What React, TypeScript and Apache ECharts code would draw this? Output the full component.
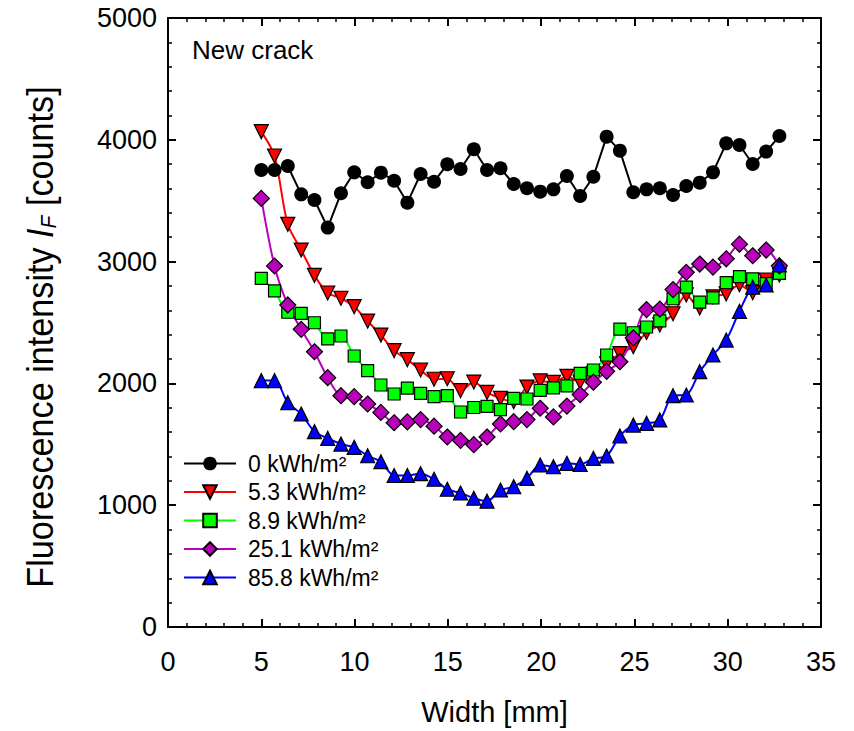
import React, { useEffect, useRef } from 'react';
import * as echarts from 'echarts';

const widthMm = [5.0, 5.71, 6.42, 7.14, 7.85, 8.56, 9.27, 9.98, 10.7, 11.41, 12.12, 12.83, 13.54, 14.26, 14.97, 15.68, 16.39, 17.1, 17.82, 18.53, 19.24, 19.95, 20.66, 21.38, 22.09, 22.8, 23.51, 24.22, 24.94, 25.65, 26.36, 27.07, 27.78, 28.5, 29.21, 29.92, 30.63, 31.34, 32.06, 32.77];

const seriesNames = ['0 kWh/m²', '5.3 kWh/m²', '8.9 kWh/m²', '25.1 kWh/m²', '85.8 kWh/m²'];

const dose0 = [3752, 3752, 3785, 3552, 3506, 3279, 3561, 3733, 3651, 3730, 3664, 3484, 3719, 3656, 3799, 3760, 3922, 3752, 3766, 3637, 3602, 3574, 3593, 3703, 3539, 3697, 4026, 3911, 3569, 3593, 3602, 3547, 3621, 3648, 3733, 3971, 3957, 3801, 3903, 4031];
const dose53 = [4067, 3867, 3306, 3095, 2887, 2742, 2699, 2630, 2512, 2397, 2269, 2195, 2110, 2034, 2038, 1940, 2011, 1926, 1877, 1850, 1970, 2020, 2008, 2058, 2010, 2080, 2160, 2245, 2302, 2418, 2480, 2572, 2726, 2620, 2710, 2735, 2810, 2745, 2849, 2890];
const dose89 = [2863, 2759, 2584, 2575, 2498, 2365, 2389, 2225, 2105, 1987, 1913, 1962, 1918, 1891, 1899, 1765, 1802, 1812, 1785, 1877, 1872, 1943, 1963, 1980, 2083, 2110, 2233, 2445, 2416, 2463, 2514, 2695, 2791, 2668, 2702, 2827, 2876, 2858, 2819, 2904];
const dose251 = [3519, 2964, 2644, 2444, 2260, 2047, 1899, 1891, 1831, 1762, 1677, 1684, 1703, 1649, 1560, 1532, 1497, 1560, 1667, 1686, 1703, 1796, 1725, 1814, 1908, 2010, 2099, 2178, 2374, 2606, 2610, 2770, 2912, 2980, 2955, 3023, 3143, 3048, 3095, 2965];
const dose858 = [2023, 2023, 1842, 1749, 1604, 1549, 1502, 1475, 1406, 1357, 1244, 1244, 1259, 1213, 1131, 1100, 1057, 1033, 1125, 1152, 1221, 1330, 1316, 1344, 1335, 1385, 1404, 1568, 1658, 1672, 1700, 1899, 1905, 2096, 2233, 2356, 2592, 2790, 2808, 2972];

const FONT = "'Liberation Sans', Arial, Helvetica, sans-serif";

const pairs = (ys: number[]) => ys.map((y, i) => [widthMm[i], y]);

export default function App() {
  const ref = useRef<HTMLDivElement>(null);
  useEffect(() => {
    if (!ref.current) return;
    const chart = echarts.init(ref.current, undefined, { renderer: 'svg' });
    const axisCommon = {
      axisLine: { show: true, onZero: false, lineStyle: { color: '#000', width: 2 } },
      axisTick: { show: true, inside: true, length: 8, lineStyle: { color: '#000', width: 2 } },
      minorTick: { show: true, splitNumber: 5, length: 4, lineStyle: { color: '#000', width: 1.5 } },
      splitLine: { show: false },
    };
    const mk = (name: string, ys: number[], color: string, lineColor: string, symbol: string, size: number, rotate: number, smooth: number | boolean, border: boolean) => ({
      name,
      type: 'line',
      data: pairs(ys),
      symbol,
      symbolSize: size,
      symbolRotate: rotate,
      smooth,
      showAllSymbol: true,
      lineStyle: { color: lineColor, width: 2 },
      itemStyle: { color, borderColor: '#000', borderWidth: border ? 1.2 : 0 },
      emphasis: { disabled: true },
    });
    chart.setOption({
      animation: false,
      backgroundColor: '#fff',
      grid: { left: 168, right: 33, top: 18, bottom: 104, containLabel: false },
      xAxis: [
        {
          type: 'value', min: 0, max: 35, interval: 5, position: 'bottom',
          ...axisCommon,
          axisLabel: { show: true, fontSize: 27, color: '#000', margin: 21, fontFamily: FONT },
          name: 'Width [mm]', nameLocation: 'middle', nameGap: 70,
          nameTextStyle: { fontSize: 29, color: '#000', fontFamily: FONT },
        },
        {
          type: 'value', min: 0, max: 35, interval: 5, position: 'top',
          ...axisCommon,
          axisLabel: { show: false },
        },
      ],
      yAxis: [
        {
          type: 'value', min: 0, max: 5000, interval: 1000, position: 'left',
          ...axisCommon,
          axisLabel: { show: true, fontSize: 27, color: '#000', margin: 11, fontFamily: FONT, formatter: (v: number) => String(v) },
        },
        {
          type: 'value', min: 0, max: 5000, interval: 1000, position: 'right',
          ...axisCommon,
          axisLabel: { show: false },
        },
      ],
      legend: {
        orient: 'vertical', left: 183, top: 452, padding: 0,
        itemWidth: 52, itemHeight: 17, itemGap: 5.5,
        textStyle: { fontSize: 23, lineHeight: 23, color: '#000', fontFamily: FONT, padding: [0, 0, 0, 7] },
        data: seriesNames,
      },
      graphic: [
        {
          type: 'text', left: 192, top: 37,
          style: { text: 'New crack', fontSize: 26, fill: '#000', fontFamily: FONT },
        },
        {
          type: 'text', x: 40, y: 337, rotation: Math.PI / 2, scaleX: 0.95,
          style: {
            text: '{a|Fluorescence intensity }{i|I}{s|F}{a| [counts]}',
            align: 'center', verticalAlign: 'middle',
            rich: {
              a: { fontSize: 36, fontFamily: FONT, fill: '#000', lineHeight: 40 },
              i: { fontSize: 36, fontFamily: FONT, fontStyle: 'italic', fill: '#000', lineHeight: 40 },
              s: { fontSize: 22, fontFamily: FONT, fontStyle: 'italic', fill: '#000', lineHeight: 22, verticalAlign: 'bottom' },
            },
          },
        },
      ],
      series: [
        mk(seriesNames[0], dose0, '#000', '#000', 'circle', 14, 0, false, false),
        mk(seriesNames[1], dose53, '#ff0000', '#ff0000', 'triangle', 14, 180, 0.3, true),
        mk(seriesNames[2], dose89, '#00ff00', '#00ff00', 'rect', 12, 0, 0.3, true),
        mk(seriesNames[3], dose251, '#bb00bb', '#bb00bb', 'diamond', 16, 0, 0.3, true),
        mk(seriesNames[4], dose858, '#0000ff', '#0000ff', 'triangle', 14, 0, 0.3, true),
      ],
    });
    return () => chart.dispose();
  }, []);
  return <div ref={ref} style={{ width: 854, height: 731, position: 'absolute', left: 0, top: 0 }} />;
}
